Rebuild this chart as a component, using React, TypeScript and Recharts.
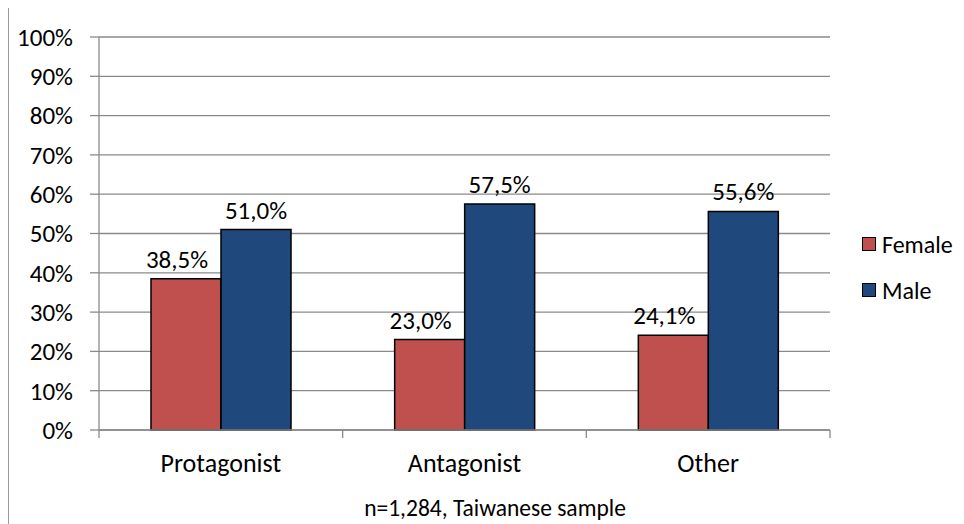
import { BarChart, Bar, XAxis, YAxis, CartesianGrid, Legend, LabelList } from "recharts";

const roles = ["Protagonist", "Antagonist", "Other"];
const female = [38.5, 23.0, 24.1];
const male = [51.0, 57.5, 55.6];
const yTicks = [0, 10, 20, 30, 40, 50, 60, 70, 80, 90, 100];
const seriesNames = ["Female", "Male"];
const seriesColors = ["#C0504D", "#1F497D"];
const footnote = "n=1,284, Taiwanese sample";

const data = roles.map((role, i) => ({ role, Female: female[i], Male: male[i] }));

const W = 956;
const H = 516;
const margin = { top: 29, right: 134, bottom: 34, left: 0 };
const yAxisWidth = 91;
const font = "Calibri, Carlito, Lato, sans-serif";
const gridColor = "#8a8a8a";
// excel nudged the female labels a bit to the left
const labelShift = [-9, 0];

const bandWidth = (W - margin.right - margin.left - yAxisWidth) / roles.length;

function pct(v: number) {
  return v.toFixed(1).replace(".", ",") + "%";
}

function RoleTick(props: any) {
  const { x, y, payload, index } = props;
  const left = x - bandWidth / 2;
  const right = x + bandWidth / 2;
  return (
    <g>
      <line x1={left} x2={left} y1={y} y2={y + 8} stroke={gridColor} strokeWidth={1.3} />
      {index === roles.length - 1 && (
        <line x1={right} x2={right} y1={y} y2={y + 8} stroke={gridColor} strokeWidth={1.3} />
      )}
      <text x={x} y={y + 33} dy="0.35em" textAnchor="middle" fill="#000" fontSize={26} fontFamily={font}>
        {payload.value}
      </text>
    </g>
  );
}

function LegendBox() {
  return (
    <div style={{ fontFamily: font, fontSize: 24, color: "#000", whiteSpace: "nowrap" }}>
      {seriesNames.map((name, i) => (
        <div key={name} style={{ height: 46, display: "flex", alignItems: "center" }}>
          <span
            style={{
              display: "inline-block",
              width: 12,
              height: 12,
              background: seriesColors[i],
              border: "1.5px solid #000",
              marginRight: 6,
            }}
          />
          {name}
        </div>
      ))}
    </div>
  );
}

export default function App() {
  return (
    <div style={{ position: "relative", width: W, height: H }}>
      <div
        style={{
          position: "absolute",
          left: 0,
          top: -1,
          width: W,
          height: H + 1,
          borderLeft: "1.5px solid #9a9a9a",
          borderTop: "1.5px solid #9a9a9a",
          boxSizing: "border-box",
          pointerEvents: "none",
        }}
      />
      <BarChart width={W} height={H} data={data} margin={margin} barGap={0} barSize={70}>
        <CartesianGrid vertical={false} stroke={gridColor} strokeWidth={1.3} />
        <XAxis
          dataKey="role"
          height={60}
          tickLine={false}
          tickSize={0}
          tickMargin={0}
          axisLine={{ stroke: gridColor, strokeWidth: 1.3 }}
          tick={<RoleTick />}
          interval={0}
        />
        <YAxis
          width={yAxisWidth}
          domain={[0, 100]}
          ticks={yTicks}
          interval={0}
          tickSize={9}
          tickMargin={17}
          tickFormatter={(v: number) => `${v}%`}
          axisLine={{ stroke: gridColor, strokeWidth: 1.3 }}
          tickLine={{ stroke: gridColor, strokeWidth: 1.3 }}
          tick={{ fill: "#000", fontSize: 25, fontFamily: font }}
        />
        <Legend
          layout="vertical"
          align="center"
          verticalAlign="middle"
          content={<LegendBox />}
          wrapperStyle={{ left: 854, top: 213, width: 100 }}
        />
        {seriesNames.map((name, i) => (
          <Bar
            key={name}
            dataKey={name}
            fill={seriesColors[i]}
            stroke="#000"
            strokeWidth={1.5}
            isAnimationActive={false}
          >
            <LabelList
              dataKey={name}
              position="top"
              offset={11}
              dx={labelShift[i]}
              formatter={(v: any) => pct(Number(v))}
              style={{ fill: "#000", fontSize: 25, fontFamily: font }}
            />
          </Bar>
        ))}
      </BarChart>
      <div
        style={{
          position: "absolute",
          left: 0,
          width: 974,
          top: 486,
          textAlign: "center",
          fontFamily: font,
          fontSize: 23.5,
          color: "#000",
          whiteSpace: "nowrap",
        }}
      >
        {footnote}
      </div>
    </div>
  );
}
